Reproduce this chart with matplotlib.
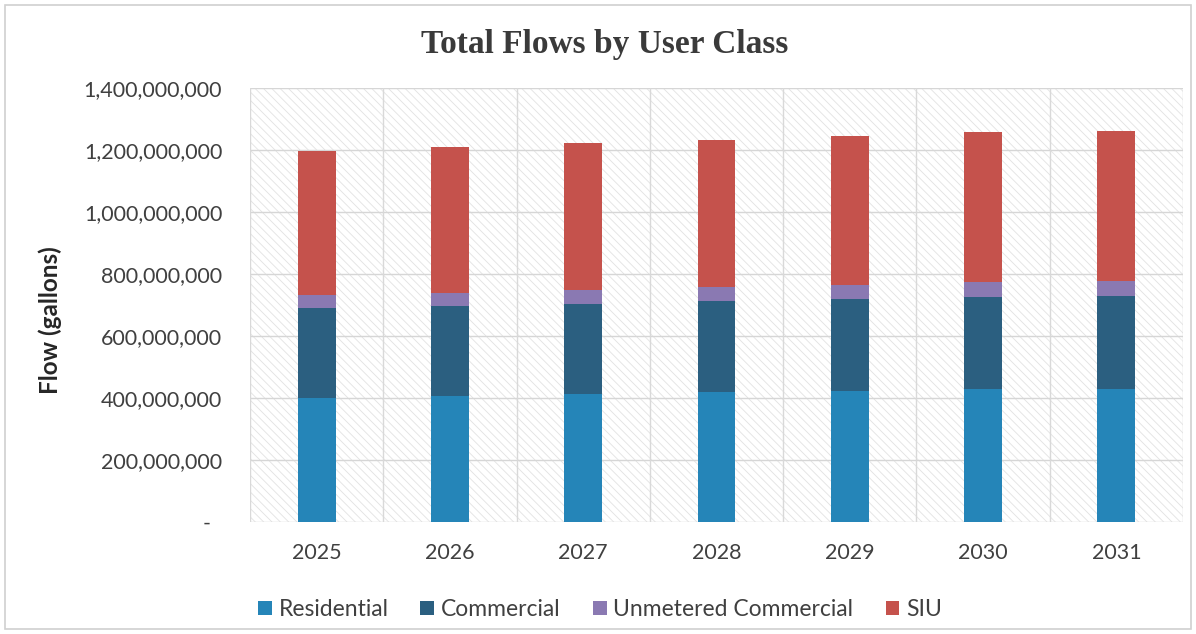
import matplotlib.pyplot as plt
import numpy as np
from matplotlib.patches import Rectangle
from matplotlib.ticker import FuncFormatter, MultipleLocator

# ------------------------------------------------------------
# Data (gallons)
# ------------------------------------------------------------
years = ["2025", "2026", "2027", "2028", "2029", "2030", "2031"]
residential = [400e6, 408e6, 413e6, 419e6, 424e6, 428e6, 430e6]
commercial = [290e6, 288e6, 290e6, 293e6, 296e6, 299e6, 300e6]
unmetered_commercial = [42e6, 43e6, 44e6, 45e6, 46e6, 47e6, 47e6]
siu = [466e6, 470e6, 474e6, 475e6, 479e6, 483e6, 485e6]

series = [
    ("Residential", residential, "#2585b8"),
    ("Commercial", commercial, "#2b5f80"),
    ("Unmetered Commercial", unmetered_commercial, "#8a79b2"),
    ("SIU", siu, "#c5524c"),
]

plt.rcParams["font.family"] = ["Lato", "DejaVu Sans"]
plt.rcParams["hatch.color"] = "#dcdcdc"
plt.rcParams["hatch.linewidth"] = 0.6

fig = plt.figure(figsize=(11.96, 6.34), dpi=100)
ax = fig.add_axes([250 / 1196, 1 - 522 / 634, 933 / 1196, 434 / 634])

x = np.arange(len(years))

# hatched plot-area background
ax.add_patch(Rectangle((-0.5, 0), len(years), 1.4e9, facecolor="white",
                       edgecolor="#e2e2e2", hatch="\\\\\\\\", linewidth=0, zorder=0))

# grid: horizontal at ticks, vertical between categories
for yv in np.arange(0, 1.4e9 + 1, 2e8):
    ax.axhline(yv, color="#d6d6d6", linewidth=1.0, zorder=1)
for xv in np.arange(-0.5, len(years), 1.0):
    ax.axvline(xv, color="#d9d9d9", linewidth=1.0, zorder=1)

bottom = np.zeros(len(years))
for name, vals, color in series:
    ax.bar(x, vals, width=0.285, bottom=bottom, color=color, label=name, zorder=3)
    bottom += np.array(vals)

ax.set_xlim(-0.5, len(years) - 0.5)
ax.set_ylim(0, 1.4e9)
ax.yaxis.set_major_locator(MultipleLocator(2e8))
ax.yaxis.set_major_formatter(FuncFormatter(lambda v, p: "-  " if v == 0 else f"{v:,.0f}"))
ax.set_xticks(x)
ax.set_xticklabels(years)
ax.tick_params(axis="both", length=0, labelsize=15.5, colors="#404040")
ax.tick_params(axis="y", pad=20)
ax.tick_params(axis="x", pad=15)
for s in ax.spines.values():
    s.set_visible(False)

ax.set_ylabel("Flow (gallons)", fontsize=17.5, fontweight="bold", color="#262626")
ax.yaxis.set_label_coords(-0.202, 0.465)

fig.text(0.506, 1 - 45 / 634, "Total Flows by User Class", ha="center", va="center",
         fontsize=24, fontweight="bold", color="#3a3a3a", family=["Liberation Serif", "DejaVu Serif"])

ax.legend(loc="upper center", bbox_to_anchor=(0.375, -0.13), ncol=4, frameon=False,
          fontsize=16.5, handlelength=0.6, handleheight=0.6, handletextpad=0.3,
          columnspacing=1.4, labelcolor="#404040")

# outer chart border
fig.add_artist(Rectangle((5 / 1196, 5 / 634), 1186 / 1196, 624 / 634, transform=fig.transFigure,
                         fill=False, edgecolor="#d0d0d0", linewidth=1.2))

fig.savefig("out.png", dpi=100)
